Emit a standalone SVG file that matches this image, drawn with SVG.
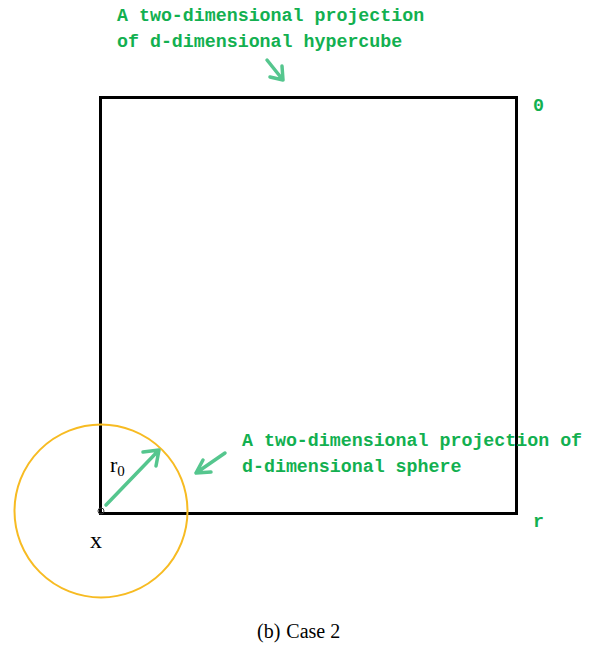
<svg xmlns="http://www.w3.org/2000/svg" width="600" height="645" viewBox="0 0 600 645">
<style>
.g{font-family:"Liberation Mono","DejaVu Sans Mono",monospace;font-weight:bold;font-size:18.3px;fill:#12b050}
.s{font-family:"Liberation Serif","Times New Roman",serif;fill:#000}
.a{stroke:#55c68e;stroke-width:3.5;fill:none;stroke-linecap:round;stroke-linejoin:round}
</style>
<rect width="600" height="645" fill="#fff"/>
<g id="cube"><rect x="100.5" y="97.5" width="416" height="416" fill="none" stroke="#000" stroke-width="3"/></g>
<g id="sphere"><circle cx="101" cy="511" r="86.5" fill="none" stroke="#f7bb22" stroke-width="2"/><circle cx="101" cy="511" r="3" fill="none" stroke="#333" stroke-width="1"/></g>
<g id="connectors">
<path class="a" d="M106 505L159 450M143 452L159 450L156 466"/>
<path class="a" d="M267 60L283 80M282 66L283 80L270 77"/>
<path class="a" d="M225 453L196 473M203 460L196 473L211 472"/>
</g>
<g id="labels">
<text class="g" x="117" y="21">A two-dimensional projection</text>
<text class="g" x="117" y="47">of d-dimensional hypercube</text>
<text class="g" x="242" y="446">A two-dimensional projection of</text>
<text class="g" x="242" y="472">d-dimensional sphere</text>
<text class="g" x="533" y="111">0</text>
<text class="g" x="533" y="527">r</text>
<text class="s" x="110" y="472" font-size="22">r<tspan font-size="15" dy="4">0</tspan></text>
<text class="s" x="90" y="548" font-size="24">x</text>
<text class="s" x="257" y="638" font-size="20">(b)<tspan dx="6">Case 2</tspan></text>
</g>
</svg>
